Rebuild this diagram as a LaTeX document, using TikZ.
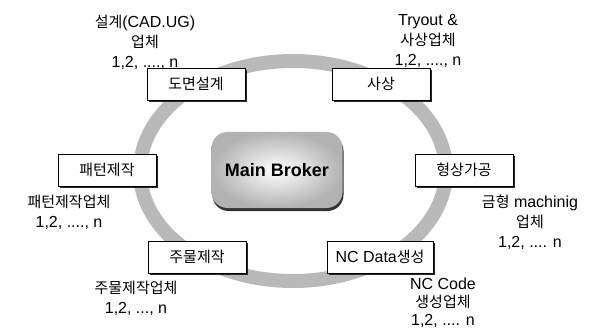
\documentclass[tikz,border=0pt]{standalone}
\usepackage{fontspec}
\setmainfont{Liberation Sans}
\newfontfamily\krfont{Noto Sans CJK KR}
\newcommand\kr{\krfont\fontsize{15}{20}\selectfont}
\usetikzlibrary{shadows}
\begin{document}
\begin{tikzpicture}[x=1pt,y=-1pt,
  box/.style={draw=black, line width=0.7pt, fill=white, minimum width=98pt, minimum height=32pt,
    font=\fontsize{16}{20}\selectfont,
    drop shadow={shadow xshift=1.8pt, shadow yshift=-2pt, fill=black!85, opacity=1}},
  lab/.style={align=center, font=\fontsize{16}{20}\selectfont, inner sep=0pt},
  ring/.style={gray!55, line width=14pt}]
\useasboundingbox (0,0) rectangle (590,329);
\draw[ring] (293,171) ellipse [x radius=153pt, y radius=110pt];
\node[rounded corners=16pt, minimum width=131pt, minimum height=76pt,
  inner color=white, outer color=gray!60,
  drop shadow={shadow xshift=1pt, shadow yshift=-3pt, fill=gray!40!black, opacity=1},
  font=\bfseries\fontsize{18}{20}\selectfont] (mb) at (277,170) {Main Broker};
\node[box] (dm) at (196,84) {\kr 도면설계};
\node[box] (ss) at (381,84) {\kr 사상};
\node[box] (pt) at (107,170) {\kr 패턴제작};
\node[box] (hs) at (464,170) {\kr 형상가공};
\node[box] (jm) at (197,257) {\kr 주물제작};
\node[box, minimum width=106pt] (nc) at (380,257) {NC Data{\kr 생성}};
\node[lab] (b1) at (145,42) {{\kr 설계}(CAD.UG)\\{\kr 업체}\\1,2, ...., n};
\node[lab] (b2) at (428,41) {Tryout \&\\{\kr 사상업체}\\1,2, ...., n};
\node[lab] (b3) at (69,212) {{\kr 패턴제작업체}\\1,2, ...., n};
\node[lab] (b4) at (136,298) {{\kr 주물제작업체}\\1,2, ..., n};
\node[lab] (b5) at (530,222) {{\kr 금형} machinig\\{\kr 업체}\\1,2, .... n};
\node[lab, font=\fontsize{16}{18}\selectfont] (b6) at (443,303) {NC Code\\{\krfont\fontsize{15}{18}\selectfont 생성업체}\\1,2, .... n};
\end{tikzpicture}
\end{document}
